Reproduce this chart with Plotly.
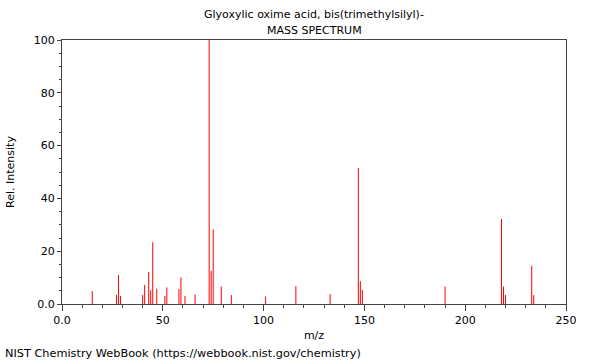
import plotly.graph_objects as go

mz = [15, 27, 28, 29, 40, 41, 43, 44, 45, 47, 51, 52, 58, 59, 61, 66,
      73, 74, 75, 79, 84, 101, 116, 133, 147, 148, 149, 190, 218, 219, 220, 233, 234]
intensity = [4.9, 3.4, 11.0, 3.0, 3.4, 7.2, 12.1, 5.2, 23.4, 5.8, 3.0, 6.3, 5.7, 10.1, 3.0, 3.6,
             100.0, 12.6, 28.3, 6.6, 3.4, 2.8, 6.8, 3.7, 51.5, 8.6, 5.3, 6.6, 32.2, 6.6, 3.4, 14.5, 3.4]

x_tickvals = [0, 50, 100, 150, 200, 250]
x_ticktext = ["0.0", "50", "100", "150", "200", "250"]
y_tickvals = [0, 20, 40, 60, 80, 100]
y_ticktext = ["0.0", "20", "40", "60", "80", "100"]

title_line1 = "Glyoxylic oxime acid, bis(trimethylsilyl)-"
title_line2 = "MASS SPECTRUM"
footer = "NIST Chemistry WebBook (https://webbook.nist.gov/chemistry)"

xs, ys = [], []
for m, h in zip(mz, intensity):
    xs += [m, m, None]
    ys += [0, h, None]

fig = go.Figure()
fig.add_trace(go.Scatter(x=xs, y=ys, mode="lines",
                         line=dict(color="rgb(255,0,0)", width=1),
                         hoverinfo="skip", showlegend=False))

font = dict(family="DejaVu Sans", size=11, color="black")
axis_common = dict(showgrid=False, zeroline=False, showline=True, linecolor="#444",
                   linewidth=1, ticks="outside", tickcolor="#444", tickfont=font,
                   mirror=True, automargin=False)

L, R, T, B = 62, 34, 40, 56
pw, ph = 600 - L - R, 360 - T - B
def px_to_paper(px, py):
    return (px - L) / pw, (360 - B - py) / ph

anns = []
for text, (px, py), anchor, size in [(title_line1, (314, 14), "center", 11),
                                     (title_line2, (314, 30), "center", 11),
                                     (footer, (3, 353), "left", 11.3)]:
    xp, yp = px_to_paper(px, py)
    anns.append(dict(text=text, x=xp, y=yp, xref="paper", yref="paper", showarrow=False,
                     xanchor=anchor, yanchor="middle",
                     font=dict(family="DejaVu Sans", size=size, color="black")))

fig.update_layout(
    width=600, height=360,
    margin=dict(l=L, r=R, t=T, b=B),
    plot_bgcolor="white", paper_bgcolor="white",
    font=font, hovermode=False,
    xaxis=dict(range=[0, 250], tickvals=x_tickvals, ticktext=x_ticktext,
               ticklen=6, tickwidth=1,
               minor=dict(dtick=10, tick0=0, ticklen=3, tickcolor="#444", ticks="outside", showgrid=False),
               title=dict(text="m/z", font=font, standoff=5), **axis_common),
    yaxis=dict(range=[0, 100], tickvals=y_tickvals, ticktext=y_ticktext,
               ticklen=4, tickwidth=1,
               minor=dict(dtick=5, tick0=0, ticklen=2, tickcolor="#444", ticks="outside", showgrid=False),
               title=dict(text="Rel. Intensity", font=font, standoff=16), **axis_common),
    annotations=anns,
)

fig.write_html("out.html", config={"displayModeBar": False})
